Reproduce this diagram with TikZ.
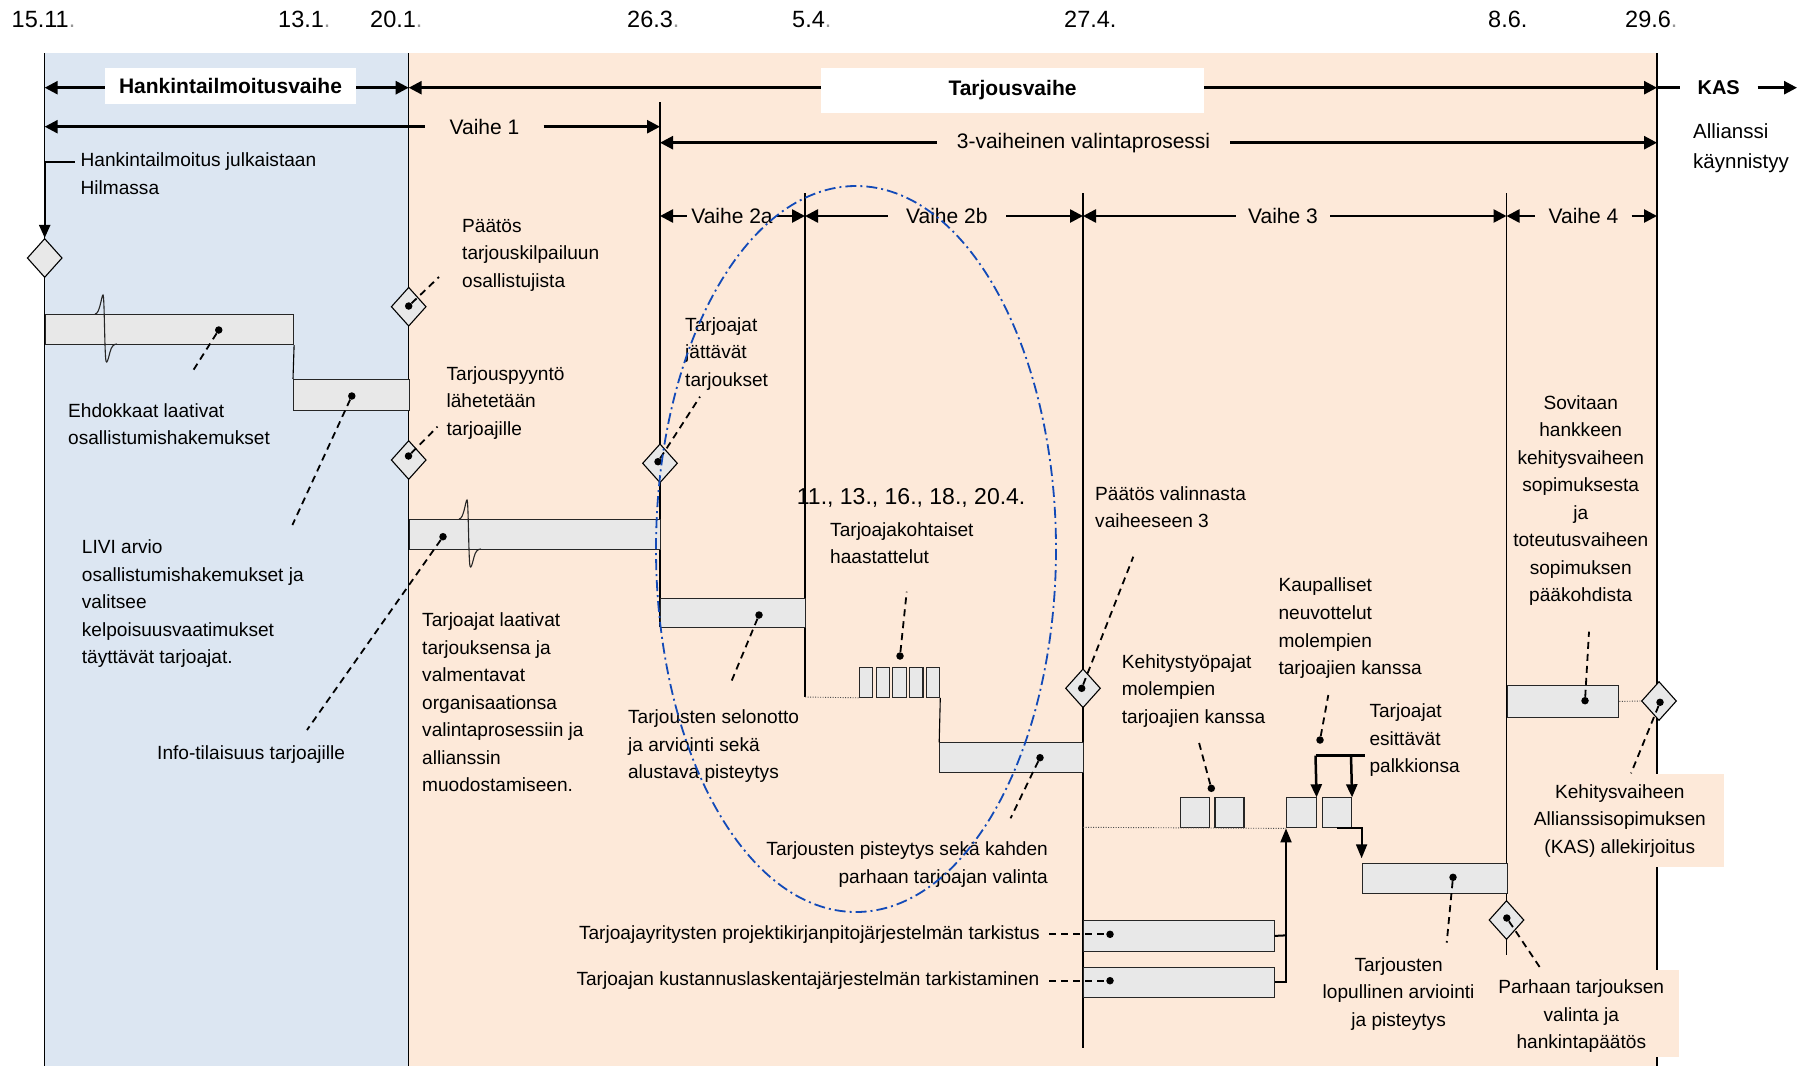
\documentclass[tikz,border=0pt]{standalone}
\usepackage{fontspec}
\setmainfont{Liberation Sans}
\usetikzlibrary{arrows.meta,shapes.geometric}
\definecolor{bgblue}{RGB}{220,230,242}
\definecolor{bgpeach}{RGB}{253,233,217}
\definecolor{barfill}{RGB}{232,232,232}
\definecolor{ellblue}{RGB}{18,74,184}
\definecolor{dategray}{RGB}{150,150,150}
\tikzset{
  tline/.style={line width=1.3pt, draw=black},
  barbox/.style={rectangle, draw=black!85, line width=1.1pt, fill=barfill, inner sep=0pt, anchor=north west},
  milestone/.style={diamond, draw=black, line width=1.1pt, fill=barfill, inner sep=0pt, minimum width=35pt, minimum height=39pt},
  bullet/.style={circle, fill=black, inner sep=0pt, minimum size=7.5pt},
  leader/.style={line width=1.8pt, dash pattern=on 7pt off 5pt},
  phasearrow/.style={line width=2.6pt},
  conn/.style={line width=2pt},
  dotline/.style={line width=0.9pt, dash pattern=on 1pt off 1.5pt, draw=black!70},
  txt/.style={font=\fontsize{19.1pt}{27.5pt}\selectfont, inner sep=0pt, align=left},
  ctxt/.style={font=\fontsize{19.1pt}{27.5pt}\selectfont, inner sep=0pt, align=center},
  datelbl/.style={font=\fontsize{23.5pt}{28pt}\selectfont, inner sep=0pt, anchor=base west},
  phaselbl/.style={font=\fontsize{21pt}{25pt}\selectfont, inner ysep=0pt},
  headlbl/.style={font=\bfseries\fontsize{21pt}{25pt}\selectfont, fill=white, inner sep=0pt},
  breakmark/.style={line width=1.1pt, draw=black!85},
}
\begin{document}
\begin{tikzpicture}[x=1pt,y=-1pt,>={Triangle[length=13pt,width=13pt]}]
\useasboundingbox (0,0) rectangle (1804,1066);
% backgrounds
\fill[bgblue] (44.7,53) rectangle (408.7,1066);
\fill[bgpeach] (408.7,53) rectangle (1657,1066);

% dates
\node[datelbl] (dt1) at (11.5,27) {15.11\textcolor{dategray}{.}};
\node[datelbl] (dt2) at (278,27) {13.1\textcolor{dategray}{.}};
\node[datelbl] (dt3) at (370,27) {20.1\textcolor{dategray}{.}};
\node[datelbl] (dt4) at (627,27) {26.3\textcolor{dategray}{.}};
\node[datelbl] (dt5) at (792,27) {5.4\textcolor{dategray}{.}};
\node[datelbl] (dt6) at (1064,27) {27.4.};
\node[datelbl] (dt7) at (1488,27) {8.6.};
\node[datelbl] (dt8) at (1625,27) {29.6\textcolor{dategray}{.}};

% timeline lines
\coordinate (L1t) at (44.7,53);   \coordinate (L1b) at (44.7,1066);
\coordinate (L2t) at (408.7,53);  \coordinate (L2b) at (408.7,1066);
\coordinate (L3t) at (660,102);   \coordinate (L3b) at (660,627.3);
\coordinate (L4t) at (805,193);   \coordinate (L4b) at (805,697);
\coordinate (L5t) at (1083,193);  \coordinate (L5b) at (1083,1048);
\coordinate (L6t) at (1506.5,193); \coordinate (L6b) at (1506.5,955);
\coordinate (L7t) at (1657,53);   \coordinate (L7b) at (1657,1066);
\draw[tline] (L1t) -- (L1b);
\draw[tline] (L2t) -- (L2b);
\draw[tline] (L3t) -- (L3b);
\draw[tline] (L4t) -- (L4b);
\draw[tline] (L5t) -- (L5b);
\draw[tline] (L6t) -- (L6b);
\draw[tline] (L7t) -- (L7b);

% row 1
\node[font=\bfseries\fontsize{20pt}{24pt}\selectfont, inner xsep=17.5pt, inner ysep=0pt] (kas) at (1718.7,87.7) {KAS};
\coordinate (r1a) at (44.7,87.7);
\coordinate (r1b) at (408.7,87.7);
\coordinate (r1c) at (1657,87.7);
\coordinate (r1d) at (1797,87.7);
\draw[phasearrow,<->] (r1a) -- (r1b);
\draw[phasearrow,<->] (r1b) -- (r1c);
\draw[phasearrow] (r1c) -- (kas);
\draw[phasearrow,->] (kas) -- (r1d);
\node[headlbl, minimum width=251pt, minimum height=36pt] (hkv) at (230.5,86) {Hankintailmoitusvaihe};
\node[headlbl, minimum width=383pt, minimum height=45pt] (tjv) at (1012.5,90.5) {Tarjousvaihe};

% row 2
\coordinate (r2a) at (44.7,126.7);
\coordinate (r2b) at (660,126.7);
\node[phaselbl, inner xsep=24pt] (v1) at (484.5,126.7) {Vaihe 1};
\draw[phasearrow,<-] (r2a) -- (v1);
\draw[phasearrow,->] (v1) -- (r2b);

% row 3
\coordinate (r3a) at (660,142.7);
\coordinate (r3b) at (1657,142.7);
\node[phaselbl, inner xsep=20pt] (v3v) at (1083.5,142.7) {3-vaiheinen valintaprosessi};
\draw[phasearrow,<-] (r3a) -- (v3v);
\draw[phasearrow,->] (v3v) -- (r3b);

\node[font=\fontsize{20.5pt}{30pt}\selectfont, inner sep=0pt, align=left, anchor=west] (allk) at (1693,148) {Allianssi\\käynnistyy};

% row 4
\coordinate (r4a) at (660,216);
\coordinate (r4b) at (805,216);
\coordinate (r4c) at (1083,216);
\coordinate (r4d) at (1506.5,216);
\coordinate (r4e) at (1657,216);
\node[phaselbl, inner xsep=4.5pt] (v2a) at (732,216) {Vaihe 2a};
\node[phaselbl, inner xsep=18.4pt] (v2b) at (946.8,216) {Vaihe 2b};
\node[phaselbl, inner xsep=12pt] (v3) at (1283,216) {Vaihe 3};
\node[phaselbl, inner xsep=13pt] (v4) at (1583.5,216) {Vaihe 4};
\draw[phasearrow,<-] (r4a) -- (v2a);
\draw[phasearrow,->] (v2a) -- (r4b);
\draw[phasearrow,<-] (r4b) -- (v2b);
\draw[phasearrow,->] (v2b) -- (r4c);
\draw[phasearrow,<-] (r4c) -- (v3);
\draw[phasearrow,->] (v3) -- (r4d);
\draw[phasearrow,<-] (r4d) -- (v4);
\draw[phasearrow,->] (v4) -- (r4e);

% bars
\node[barbox, minimum width=248.3pt, minimum height=30pt] (bar1) at (44.7,314) {};
\node[barbox, minimum width=115.7pt, minimum height=31pt] (bar2) at (293,379) {};
\draw[tline, line width=1.1pt] (bar1.south east) -- (bar2.north west);
\node[barbox, minimum width=251.3pt, minimum height=30pt] (bar3) at (408.7,519) {};
\node[barbox, minimum width=145pt, minimum height=29.6pt] (bar2a) at (660,597.7) {};
\node[barbox, minimum width=13.3pt, minimum height=30pt] (iv1) at (858.7,666.7) {};
\node[barbox, minimum width=13.3pt, minimum height=30pt] (iv2) at (875.5,666.7) {};
\node[barbox, minimum width=13.3pt, minimum height=30pt] (iv3) at (892.3,666.7) {};
\node[barbox, minimum width=13.3pt, minimum height=30pt] (iv4) at (909.1,666.7) {};
\node[barbox, minimum width=13.3pt, minimum height=30pt] (iv5) at (925.9,666.7) {};
\draw[dotline] (L4b) -- (iv1.south west);
\node[barbox, minimum width=143.8pt, minimum height=30pt] (bar2b) at (939.2,742.3) {};
\draw[tline, line width=1.1pt] (iv5.south east) -- (bar2b.north west);
\coordinate (ws0) at (1083,827.3);
\node[barbox, minimum width=28.5pt, minimum height=30pt] (ws1) at (1180,797.3) {};
\node[barbox, minimum width=29pt, minimum height=30pt] (ws2) at (1214.4,797.3) {};
\node[barbox, minimum width=29.5pt, minimum height=30pt] (pk1) at (1286,797.3) {};
\node[barbox, minimum width=29pt, minimum height=30pt] (pk2) at (1322,797.3) {};
\draw[dotline] (ws0) -- (pk1.south west);
\node[barbox, minimum width=190.6pt, minimum height=30.7pt] (barA) at (1083,920) {};
\node[barbox, minimum width=190.6pt, minimum height=30.3pt] (barB) at (1083,966.7) {};
\node[barbox, minimum width=144.9pt, minimum height=30pt] (barF) at (1361.6,863.3) {};
\node[barbox, minimum width=111.8pt, minimum height=31.7pt] (barS) at (1506.5,685) {};

% break marks
\draw[breakmark, shift={(95,314)}] (0,0) .. controls (5,0) and (6.5,-19) .. (8,-19) .. controls (9.5,-19) and (9.5,40) .. (11,47) .. controls (12,50) and (13,46) .. (15,38) .. controls (16.5,32) and (19,30) .. (22,30);
\draw[breakmark, shift={(459,519)}] (0,0) .. controls (5,0) and (6.5,-19) .. (8,-19) .. controls (9.5,-19) and (9.5,40) .. (11,47) .. controls (12,50) and (13,46) .. (15,38) .. controls (16.5,32) and (19,30) .. (22,30);

% milestones
\node[milestone] (d1) at (44.7,258) {};
\node[milestone] (d2) at (408.7,306.7) {};
\node[milestone] (d3) at (408.7,460) {};
\node[milestone] (d4) at (660,463.3) {};
\node[milestone] (d5) at (1083,688.3) {};
\node[milestone] (d6) at (1506.5,920) {};
\node[milestone] (d7) at (1659,701) {};
\draw[dotline] (barS.east) -- (d7.west);

% connectors
\coordinate (hilmst) at (74.6,162);
\draw[conn, line width=2.2pt, -{Triangle[length=13pt,width=11pt]}] (hilmst) -| (d1.north);
\coordinate (jn) at (1286,935.35);
\draw[conn] (barA.east) -- (jn);
\draw[conn, -{Triangle[length=14pt,width=11pt]}] (barB.east) -| (pk1.south west);
\coordinate (br1) at (1315.5,755.7);
\coordinate (br2) at (1365,755.7);
\coordinate (br3) at (1351,755.7);
\draw[conn, line width=2.5pt] (br1) -- (br2);
\draw[conn, line width=2.5pt, -{Triangle[length=13pt,width=11pt]}] (br1) -- (pk1.north east);
\draw[conn, line width=2.5pt, -{Triangle[length=13pt,width=11pt]}] (br3) -- (pk2.north east);
\draw[conn, -{Triangle[length=14pt,width=11pt]}, shorten >=5pt] (pk2.south) -| (barF.north west);

% label backgrounds on the 29.6 line
\fill[bgpeach] (1533,774) rectangle (1724,867);
\fill[bgpeach] (1490,970) rectangle (1678.5,1057);

% texts
\node[txt, anchor=west] (hilm) at (80.4,173.5) {Hankintailmoitus julkaistaan\\Hilmassa};
\node[txt, anchor=west] (pts) at (462,255) {Päätös\\tarjouskilpailuun\\osallistujista};
\node[txt, anchor=west] (ehd) at (68,424) {Ehdokkaat laativat\\osallistumishakemukset};
\node[txt, anchor=west] (tpy) at (446.4,402.6) {Tarjouspyyntö\\lähetetään\\tarjoajille};
\node[txt, anchor=west] (livi) at (81.7,604) {LIVI arvio\\osallistumishakemukset ja\\valitsee\\kelpoisuusvaatimukset\\täyttävät tarjoajat.};
\node[txt, anchor=west] (info) at (157,755) {Info-tilaisuus tarjoajille};
\node[txt, anchor=west] (tla) at (422,702.5) {Tarjoajat laativat\\tarjouksensa ja\\valmentavat\\organisaationsa\\valintaprosessiin ja\\allianssin\\muodostamiseen.};
\node[txt, anchor=west] (tjt) at (685,354) {Tarjoajat\\jättävät\\tarjoukset};
\node[font=\fontsize{23pt}{28pt}\selectfont, inner sep=0pt, anchor=west] (pvm) at (796.7,498.3) {11., 13., 16., 18., 20.4.};
\node[txt, anchor=west] (haas) at (830,543.3) {Tarjoajakohtaiset\\haastattelut};
\node[txt, anchor=west] (sel) at (627.9,746.3) {Tarjousten selonotto\\ja arviointi sekä\\alustava pisteytys};
\node[txt, anchor=east, align=right] (pist) at (1048,864.7) {Tarjousten pisteytys sekä kahden\\parhaan tarjoajan valinta};
\node[txt, anchor=west] (tyr) at (578.8,935) {Tarjoajayritysten projektikirjanpitojärjestelmän tarkistus};
\node[txt, anchor=west] (tku) at (576.3,980.7) {Tarjoajan kustannuslaskentajärjestelmän tarkistaminen};
\node[txt, anchor=west] (pval) at (1095,507) {Päätös valinnasta\\vaiheeseen 3};
\node[txt, anchor=west] (keh) at (1121.7,691) {Kehitystyöpajat\\molempien\\tarjoajien kanssa};
\node[txt, anchor=west] (kau) at (1278.3,628.3) {Kaupalliset\\neuvottelut\\molempien\\tarjoajien kanssa};
\node[txt, anchor=west] (esi) at (1369.3,740.3) {Tarjoajat\\esittävät\\palkkionsa};
\node[ctxt] (sov) at (1580.7,500.5) {Sovitaan\\hankkeen\\kehitysvaiheen\\sopimuksesta\\ja\\toteutusvaiheen\\sopimuksen\\pääkohdista};
\node[ctxt] (lop) at (1398.6,994) {Tarjousten\\lopullinen arviointi\\ja pisteytys};
\node[ctxt] (parh) at (1581.3,1016.3) {Parhaan tarjouksen\\valinta ja\\hankintapäätös};
\node[ctxt] (kasl) at (1619.8,820.8) {Kehitysvaiheen\\Allianssisopimuksen\\(KAS) allekirjoitus};

% dots and leaders
\node[bullet] (p1) at (218.75,330) {};   \coordinate (e1) at (193,370.7);
\node[bullet] (p2) at (351.8,396) {};    \coordinate (e2) at (292.4,525);
\node[bullet] (p3) at (408.7,306) {};    \coordinate (e3) at (439,277);
\node[bullet] (p4) at (408.5,456) {};    \coordinate (e4) at (437.5,426.7);
\node[bullet] (p5) at (443,536.7) {};    \coordinate (e5) at (307,730);
\node[bullet] (p6) at (658,461.7) {};    \coordinate (e6) at (700,396.7);
\node[bullet] (p7) at (759,615) {};      \coordinate (e7) at (730.6,683.3);
\node[bullet] (p8) at (900,656) {};      \coordinate (e8) at (906.7,591.7);
\node[bullet] (p9) at (1040,757.7) {};   \coordinate (e9) at (1010.5,818.3);
\node[bullet] (p10) at (1081.7,688.3) {}; \coordinate (e10) at (1133.3,556.7);
\node[bullet] (p11) at (1211.3,788.3) {}; \coordinate (e11) at (1198.3,740);
\node[bullet] (p12) at (1320,740) {};    \coordinate (e12) at (1328.3,695);
\node[bullet] (p13) at (1453,877.3) {};  \coordinate (e13) at (1446.7,942.7);
\node[bullet] (p14) at (1506.8,918) {};  \coordinate (e14) at (1540.5,968.3);
\node[bullet] (p15) at (1585,700.7) {};  \coordinate (e15) at (1589,631.7);
\node[bullet] (p16) at (1660,702.3) {};  \coordinate (e16) at (1631,773.3);
\node[bullet] (p17) at (1110,934.3) {};  \coordinate (e17) at (1049,934.3);
\node[bullet] (p18) at (1110,980.7) {};  \coordinate (e18) at (1049,980.7);
\draw[leader] (p1) -- (e1);
\draw[leader] (p2) -- (e2);
\draw[leader] (p3) -- (e3);
\draw[leader] (p4) -- (e4);
\draw[leader] (p5) -- (e5);
\draw[leader] (p6) -- (e6);
\draw[leader] (p7) -- (e7);
\draw[leader] (p8) -- (e8);
\draw[leader] (p9) -- (e9);
\draw[leader] (p10) -- (e10);
\draw[leader] (p11) -- (e11);
\draw[leader] (p12) -- (e12);
\draw[leader] (p13) -- (e13);
\draw[leader] (p14) -- (e14);
\draw[leader] (p15) -- (e15);
\draw[leader] (p16) -- (e16);
\draw[leader] (e17) -- (p17);
\draw[leader] (e18) -- (p18);

% blue dash-dot ellipse
\draw[ellblue, line width=1.8pt, dash pattern=on 11pt off 4pt on 2pt off 4pt] (856,549) ellipse [x radius=200, y radius=363];
\end{tikzpicture}
\end{document}
